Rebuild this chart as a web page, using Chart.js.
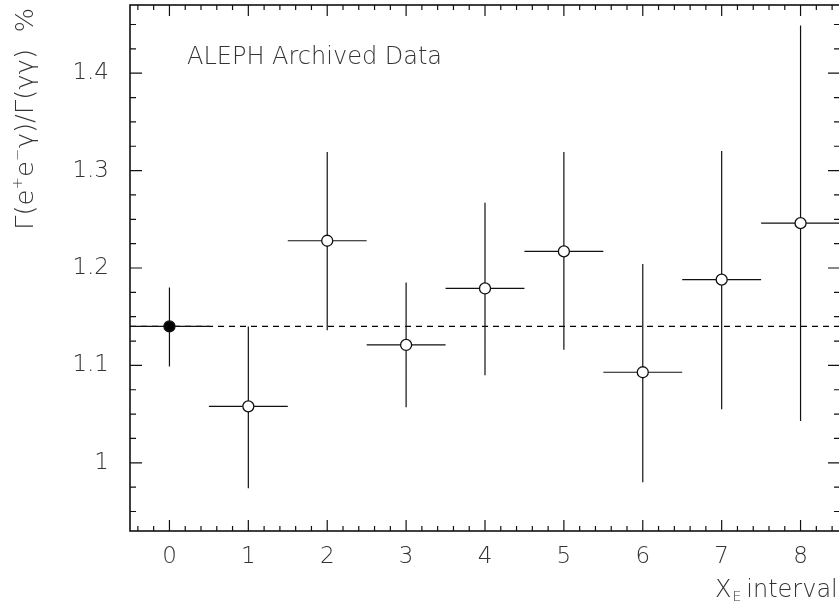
<!DOCTYPE html>
<html>
<head>
<meta charset="utf-8">
<script src="https://cdn.jsdelivr.net/npm/chart.js@4.4.1/dist/chart.umd.min.js"></script>
<style>
	html, body { margin: 0; padding: 0; background: #fff; overflow: hidden; }
	#wrap { width: 842px; height: 613px; position: relative; }
</style>
</head>
<body>
<div id="wrap"><canvas id="chart_ratio" width="842" height="613"></canvas></div>
<script>
const intervals = [0, 1, 2, 3, 4, 5, 6, 7, 8];
const ratio = [1.140, 1.058, 1.228, 1.121, 1.179, 1.217, 1.093, 1.188, 1.246];
const errLow = [1.099, 0.974, 1.136, 1.057, 1.090, 1.116, 0.980, 1.055, 1.043];
const errHigh = [1.180, 1.140, 1.319, 1.185, 1.267, 1.319, 1.204, 1.320, 1.449];
const binLow = [-0.5, 0.5, 1.5, 2.5, 3.5, 4.5, 5.5, 6.5, 7.5];
const binHigh = [0.5, 1.5, 2.5, 3.5, 4.5, 5.5, 6.5, 7.5, 8.5];
const referenceValue = 1.14;

//Axis ticks
const xTickValues = [0, 1, 2, 3, 4, 5, 6, 7, 8];
const yTickValues = [1, 1.1, 1.2, 1.3, 1.4];
const xRange = [-0.5, 8.5];
const yRange = [0.93, 1.47];

const FONT = "'DejaVu Sans', sans-serif";
const INK = '#333';

//Build segment lists, a null point breaks the line between bars
const hBars = [];
const vBars = [];
intervals.forEach(function(x, i) {
	hBars.push({x: binLow[i], y: ratio[i]}, {x: binHigh[i], y: ratio[i]}, {x: binHigh[i], y: null});
	vBars.push({x: x, y: errLow[i]}, {x: x, y: errHigh[i]}, {x: x, y: null});
});

//Frame, inward ticks and the labels that need sub/superscripts
const framePlugin = {
	id: 'frame',
	afterDatasetsDraw(chart) {
		const ctx = chart.ctx;
		const a = chart.chartArea;
		const xs = chart.scales.x;
		const ys = chart.scales.y;
		ctx.save();
		ctx.strokeStyle = '#111';
		ctx.lineWidth = 1.2;
		ctx.beginPath();
		//x ticks, major every 1, minor every 0.2
		for (let k = -2; k <= 42; k++) {
			const px = xs.getPixelForValue(k / 5);
			const len = (k % 5 === 0) ? 11 : 5;
			ctx.moveTo(px, a.bottom); ctx.lineTo(px, a.bottom - len);
			ctx.moveTo(px, a.top); ctx.lineTo(px, a.top + len);
		}
		//y ticks, major every 0.1, minor every 0.025
		for (let k = 38; k <= 58; k++) {
			const v = k / 40;
			const py = ys.getPixelForValue(v);
			const len = (k % 4 === 0 && v <= 1.41) ? 12 : 6;
			ctx.moveTo(a.left, py); ctx.lineTo(a.left + len, py);
			ctx.moveTo(a.right, py); ctx.lineTo(a.right - len, py);
		}
		ctx.stroke();
		ctx.lineWidth = 1.6;
		ctx.strokeRect(a.left, a.top, a.right - a.left, a.bottom - a.top);

		ctx.fillStyle = INK;
		ctx.textBaseline = 'alphabetic';
		ctx.textAlign = 'left';

		//Plot label
		ctx.font = '200 24px ' + FONT;
		ctx.fillText('ALEPH Archived Data', a.left + 57, a.top + 59);

		//x title with subscript
		let x = 715;
		ctx.fillText('X', x, 597);
		x += ctx.measureText('X').width + 1;
		ctx.font = '200 14px ' + FONT;
		ctx.fillText('E', x, 601);
		x += ctx.measureText('E').width + 5;
		ctx.font = '200 24px ' + FONT;
		ctx.fillText('interval', x, 597);

		//y title, rotated, with superscripts, stretched to the measured length
		const parts = [
			['\u0393(e', 0], ['+', 1], ['e', 0], ['\u2212', 1], ['\u03b3)/\u0393(\u03b3\u03b3)', 0], ['  %', 0]
		];
		let total = 0;
		parts.forEach(function(p) {
			ctx.font = (p[1] ? '200 14px ' : '200 24px ') + FONT;
			total += ctx.measureText(p[0]).width;
		});
		ctx.translate(33, 230);
		ctx.rotate(-Math.PI / 2);
		ctx.scale(222 / total, 1);
		let t = 0;
		parts.forEach(function(p) {
			ctx.font = (p[1] ? '200 14px ' : '200 24px ') + FONT;
			ctx.fillText(p[0], t, p[1] ? -11 : 0);
			t += ctx.measureText(p[0]).width;
		});
		ctx.restore();
	}
};

const chart_ratio = new Chart(document.getElementById('chart_ratio'), {
	type: 'scatter',
	data: {
		datasets: [{
			label: 'Ratio',
			data: intervals.map(function(x, i) { return {x: x, y: ratio[i]}; }),
			pointRadius: 5.5,
			pointHoverRadius: 5.5,
			pointBackgroundColor: intervals.map(function(x, i) { return i === 0 ? '#000' : '#fff'; }),
			pointBorderColor: '#111',
			pointBorderWidth: 1.3,
			showLine: false
		}, {
			label: 'x bins',
			type: 'line',
			data: hBars,
			borderColor: '#111',
			borderWidth: 1.2,
			pointRadius: 0,
			spanGaps: false
		}, {
			label: 'errors',
			type: 'line',
			data: vBars,
			borderColor: '#111',
			borderWidth: 1.2,
			pointRadius: 0,
			spanGaps: false
		}, {
			label: 'reference',
			type: 'line',
			data: [{x: xRange[0], y: referenceValue}, {x: xRange[1], y: referenceValue}],
			borderColor: '#000',
			borderWidth: 1.2,
			borderDash: [6, 5],
			pointRadius: 0
		}]
	},
	options: {
		responsive: false,
		animation: false,
		layout: {
			autoPadding: false,
			padding: {top: 5, right: 2, bottom: 0, left: 0}
		},
		plugins: {
			legend: {display: false},
			tooltip: {enabled: false}
		},
		scales: {
			x: {
				type: 'linear',
				min: xRange[0],
				max: xRange[1],
				afterBuildTicks: function(scale) {
					scale.ticks = xTickValues.map(function(v) { return {value: v}; });
				},
				afterFit: function(scale) {
					scale.height = 82;
					scale.paddingLeft = 0;
					scale.paddingRight = 0;
				},
				grid: {display: false, drawTicks: false},
				border: {display: false},
				ticks: {
					font: {family: FONT, size: 23, weight: 200},
					color: INK,
					padding: 12,
					maxRotation: 0,
					autoSkip: false,
					callback: function(v) { return String(v); }
				}
			},
			y: {
				type: 'linear',
				min: yRange[0],
				max: yRange[1],
				afterBuildTicks: function(scale) {
					scale.ticks = yTickValues.map(function(v) { return {value: v}; });
				},
				afterFit: function(scale) {
					scale.width = 130;
					scale.paddingTop = 0;
					scale.paddingBottom = 0;
				},
				grid: {display: false, drawTicks: false},
				border: {display: false},
				ticks: {
					font: {family: FONT, size: 23, weight: 200},
					color: INK,
					padding: 21,
					autoSkip: false,
					callback: function(v) { return String(+v.toFixed(2)); }
				}
			}
		}
	},
	plugins: [framePlugin]
});
</script>
</body>
</html>
